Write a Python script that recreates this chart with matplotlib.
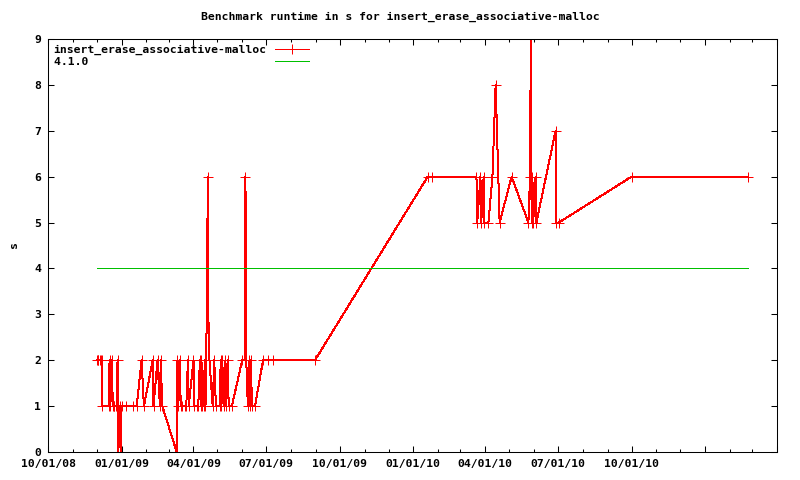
import datetime as dt
import matplotlib
matplotlib.use("Agg")
import matplotlib.pyplot as plt
import matplotlib.dates as mdates
from matplotlib.ticker import FuncFormatter, MultipleLocator

# runtime samples (date, seconds)
dates = [
    "2008-12-01", "2008-12-02", "2008-12-03", "2008-12-05", "2008-12-06", "2008-12-07",
    "2008-12-08", "2008-12-16", "2008-12-17", "2008-12-18", "2008-12-20", "2008-12-21",
    "2008-12-22", "2008-12-23", "2008-12-25", "2008-12-26", "2008-12-27", "2008-12-28",
    "2008-12-30", "2008-12-31", "2009-01-01", "2009-01-06", "2009-01-15", "2009-01-20",
    "2009-01-26", "2009-01-29", "2009-02-09", "2009-02-10", "2009-02-15", "2009-02-18",
    "2009-02-19", "2009-02-21", "2009-03-11", "2009-03-12", "2009-03-13", "2009-03-15",
    "2009-03-16", "2009-03-18", "2009-03-21", "2009-03-23", "2009-03-25", "2009-03-26",
    "2009-04-01", "2009-04-02", "2009-04-05", "2009-04-07", "2009-04-09", "2009-04-10",
    "2009-04-11", "2009-04-12", "2009-04-14", "2009-04-15", "2009-04-16", "2009-04-17",
    "2009-04-19", "2009-04-20", "2009-04-21", "2009-04-25", "2009-04-27", "2009-04-29",
    "2009-05-04", "2009-05-05", "2009-05-06", "2009-05-07", "2009-05-09", "2009-05-11",
    "2009-05-12", "2009-05-14", "2009-05-15", "2009-05-19", "2009-06-01", "2009-06-04",
    "2009-06-05", "2009-06-06", "2009-06-08", "2009-06-10", "2009-06-11", "2009-06-12",
    "2009-06-13", "2009-06-17", "2009-06-27", "2009-07-03", "2009-07-10", "2009-08-31",
    "2010-01-19", "2010-01-24", "2010-03-21", "2010-03-22", "2010-03-26", "2010-03-27",
    "2010-03-30", "2010-03-31", "2010-04-05", "2010-04-10", "2010-04-14", "2010-04-19",
    "2010-05-04", "2010-05-25", "2010-05-27", "2010-05-28", "2010-05-29", "2010-05-30",
    "2010-05-31", "2010-06-03", "2010-06-04", "2010-06-28", "2010-06-29", "2010-07-02",
    "2010-10-01", "2011-02-24",
]
runtime = [
    2, 2, 2, 2, 2, 2,
    1, 1, 2, 1, 2, 1,
    1, 1, 1, 1, 2, 0,
    1, 0, 1, 1, 1, 1,
    2, 1, 2, 1, 2, 1,
    2, 1, 0, 2, 1, 2,
    1, 1, 1, 1, 2, 1,
    2, 1, 1, 1, 2, 1,
    2, 1, 1, 2, 1, 2,
    6, 2, 2, 1, 2, 1,
    1, 2, 1, 2, 1, 2,
    1, 2, 1, 1, 2, 2,
    6, 2, 1, 2, 1, 2,
    1, 1, 2, 2, 2, 2,
    6, 6, 6, 5, 6, 5,
    6, 5, 5, 6, 8, 5,
    6, 5, 6, 9, 5, 6,
    5, 6, 5, 7, 5, 5,
    6, 6,
]

baseline_label = "4.1.0"
baseline_value = 4
series_label = "insert_erase_associative-malloc"
title = "Benchmark runtime in s for insert_erase_associative-malloc"

x = [dt.datetime.strptime(d, "%Y-%m-%d") for d in dates]

plt.rcParams['font.family'] = ['DejaVu Sans Mono']
plt.rcParams['font.weight'] = 'bold'
plt.rcParams['font.size'] = 8.2

fig = plt.figure(figsize=(8, 4.8), dpi=100)
ax = fig.add_axes([0.06, 0.0583, 0.91125, 0.8604])

ax.plot(x, runtime, color='#ff0000', lw=0.72, marker='+', ms=6.5, mew=0.72,
        antialiased=False, label=series_label)
ax.plot([x[0], x[-1]], [baseline_value, baseline_value], color='#00c000', lw=0.72,
        antialiased=False, label=baseline_label)

ax.set_xlim(dt.datetime(2008, 10, 1), dt.datetime(2011, 4, 1))
ax.set_ylim(0, 9)

last_label = mdates.date2num(dt.datetime(2010, 10, 1))
ax.xaxis.set_major_locator(mdates.MonthLocator(bymonth=[1, 4, 7, 10]))
ax.xaxis.set_minor_locator(mdates.MonthLocator())
ax.xaxis.set_major_formatter(FuncFormatter(
    lambda v, p: mdates.num2date(v).strftime("%m/%d/%y") if v <= last_label + 0.5 else ""))
ax.yaxis.set_major_locator(MultipleLocator(1))

ax.tick_params(which='both', direction='in', top=True, right=True, width=0.75, colors='black')
ax.tick_params(which='major', length=4.5, pad=5)
ax.tick_params(which='minor', length=2.5)
for s in ax.spines.values():
    s.set_linewidth(0.75)

fig.text(14 / 800, 1 - 245 / 480, "s", rotation=90, ha='center', va='center')
fig.text(0.5, 0.9646, title, ha='center', va='center')

# monospace: pad labels so text stays left aligned with handle on the right
w = max(len(series_label), len(baseline_label))
h, l = ax.get_legend_handles_labels()
ax.legend(h, [s.ljust(w) for s in l], loc='upper left', frameon=False,
          markerfirst=False, handlelength=3.0, borderaxespad=0.2,
          labelspacing=0.15, handletextpad=0.7, borderpad=0.3)

fig.savefig("out.png", dpi=100)
